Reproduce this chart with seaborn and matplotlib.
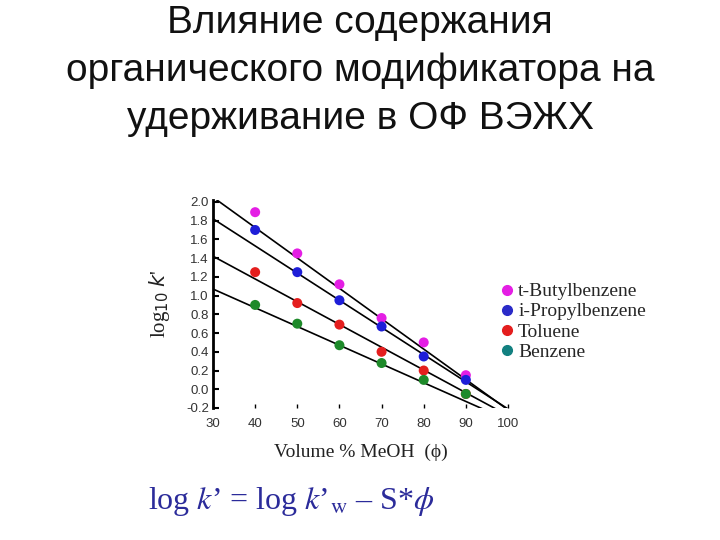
import numpy as np
import pandas as pd
import matplotlib
matplotlib.use("Agg")
import matplotlib.pyplot as plt
import seaborn as sns
from matplotlib.lines import Line2D

# ---- data ----
phi = [40, 50, 60, 70, 80, 90]
t_butyl = [1.89, 1.45, 1.12, 0.76, 0.50, 0.15]
i_propyl = [1.70, 1.25, 0.95, 0.67, 0.35, 0.10]
toluene = [1.25, 0.92, 0.69, 0.40, 0.20, -0.05]
benzene = [0.90, 0.70, 0.47, 0.28, 0.10, -0.05]
names = ["t-Butylbenzene", "i-Propylbenzene", "Toluene", "Benzene"]
# fitted lines: value at phi = 30 and phi = 100
line_x = [30, 100]
line_t_butyl = [2.05, -0.22]
line_i_propyl = [1.82, -0.21]
line_toluene = [1.42, -0.28]
line_benzene = [1.07, -0.33]

point_colors = ["#e41ee4", "#1e1ed8", "#e41e1e", "#1e8a2a"]
legend_colors = ["#e41ee4", "#2a2ac8", "#e41e1e", "#128080"]

series = [t_butyl, i_propyl, toluene, benzene]
lines = [line_t_butyl, line_i_propyl, line_toluene, line_benzene]
df = pd.DataFrame({
    "phi": phi * 4,
    "logk": sum(series, []),
    "compound": sum([[n] * len(phi) for n in names], []),
})
dfl = pd.DataFrame({
    "phi": line_x * 4,
    "logk": sum(lines, []),
    "compound": sum([[n] * 2 for n in names], []),
})

sns.set_theme(style="white")
plt.rcParams["font.family"] = ["Liberation Sans", "DejaVu Sans"]

fig = plt.figure(figsize=(7.2, 5.4), dpi=100)
ax = fig.add_axes([213 / 720, 1 - 408 / 540, (508 - 213) / 720, (408 - 200) / 540])

sns.lineplot(data=dfl, x="phi", y="logk", units="compound", estimator=None,
             color="black", lw=1.2, ax=ax, legend=False)
sns.scatterplot(data=df, x="phi", y="logk", hue="compound", palette=point_colors,
                s=52, edgecolor="none", ax=ax, legend=False, zorder=3)

ax.set_xlim(30, 100)
ax.set_ylim(-0.2, 2.02)
ax.set_xticks([30, 40, 50, 60, 70, 80, 90, 100])
yt = np.round(np.arange(-0.2, 2.01, 0.2), 1)
ax.set_yticks(yt)
ax.set_yticklabels([f"{v:.1f}" for v in yt])
for s in ["top", "right", "bottom"]:
    ax.spines[s].set_visible(False)
ax.spines["left"].set_color("black")
ax.spines["left"].set_linewidth(2)
ax.tick_params(axis="y", direction="in", length=4, width=1.5, color="black",
               labelsize=9.5, labelcolor="#333333", pad=3, left=True)
ax.tick_params(axis="x", direction="in", length=3, width=1, color="black",
               labelsize=9.5, labelcolor="#333333", pad=7, bottom=True)
ax.set_xlabel("Volume % MeOH  (\u03d5)", family="Liberation Serif", fontsize=14,
              color="#222222", labelpad=10)
ax.set_ylabel("log$_{10}$ $k$'", family="Liberation Serif", fontsize=15,
              color="#222222", labelpad=10)

handles = [Line2D([], [], marker="o", ls="", color=c, markersize=7) for c in legend_colors]
fig.legend(handles, names, loc="upper left", bbox_to_anchor=(488 / 720, 1 - 273 / 540),
           frameon=False, handletextpad=0.05, labelspacing=0.13, borderpad=0,
           handlelength=1.0, prop={"family": "Liberation Serif", "size": 14})

fig.text(0.5, 1 - 23 / 540, "Влияние содержания", ha="center", va="center",
         fontsize=28, color="#111111")
fig.text(0.5, 1 - 71 / 540, "органического модификатора на", ha="center", va="center",
         fontsize=28, color="#111111")
fig.text(0.5, 1 - 119 / 540, "удерживание в ОФ ВЭЖХ", ha="center", va="center",
         fontsize=28, color="#111111")

fig.text(148 / 720, 1 - 502 / 540,
         "log $k$\u2019 = log $k$\u2019$_{\\rm w}$ \u2013 S*$\\phi$",
         ha="left", va="center", fontsize=23, color="#2b2b9a",
         family="Liberation Serif", math_fontfamily="stix")

fig.savefig("out.png", dpi=100)
